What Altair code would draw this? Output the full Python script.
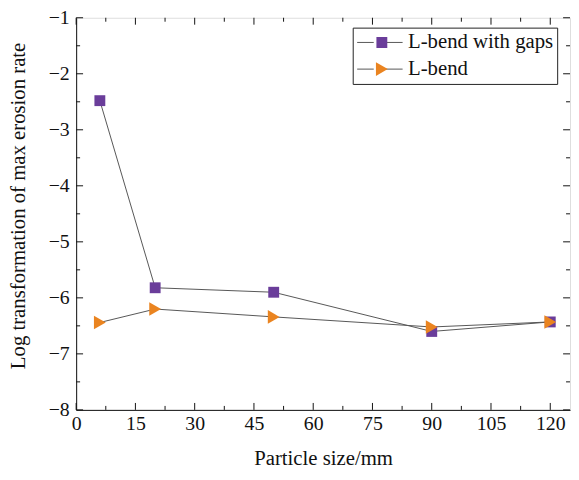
import altair as alt
import pandas as pd

sizes = [6, 20, 50, 90, 120]
gaps_vals = [-2.48, -5.82, -5.90, -6.60, -6.43]
lbend_vals = [-6.44, -6.20, -6.34, -6.52, -6.43]
series_names = ["L-bend with gaps", "L-bend"]
series_colors = ["#6a3d9a", "#ea8420"]
series_shapes = ["square", "triangle-right"]
series_sizes = [121, 190]

x_major = [0, 15, 30, 45, 60, 75, 90, 105, 120]
x_minor = [7.5, 22.5, 37.5, 52.5, 67.5, 82.5, 97.5, 112.5]
y_major = [-8, -7, -6, -5, -4, -3, -2, -1]
y_minor = [-7.5, -6.5, -5.5, -4.5, -3.5, -2.5, -1.5]

rows = []
for s, g, l in zip(sizes, gaps_vals, lbend_vals):
    rows.append({"size": s, "val": g, "series": series_names[0]})
    rows.append({"size": s, "val": l, "series": series_names[1]})
df = pd.DataFrame(rows)

W, H = 500, 397
FONT = "Liberation Serif, Times New Roman, Times, serif"
INK = "#111111"

xscale = alt.Scale(domain=[0, 125], nice=False, zero=False)
yscale = alt.Scale(domain=[-8, -1], nice=False, zero=False)

xaxis = alt.Axis(values=x_major, ticks=False, grid=False, title="Particle size/mm",
                 format="d",
                 labelFont=FONT, labelFontSize=20, labelColor=INK, labelPadding=4,
                 titleFont=FONT, titleFontSize=21, titleFontWeight="normal", titleColor=INK,
                 titleBaseline="alphabetic", titleY=55,
                 domainColor=INK, labelFlush=False)
yaxis = alt.Axis(values=y_major, ticks=False, grid=False,
                 title="Log transformation of max erosion rate",
                 format="d",
                 labelFont=FONT, labelFontSize=20, labelColor=INK, labelPadding=7,
                 titleFont=FONT, titleFontSize=21, titleFontWeight="normal", titleColor=INK,
                 titleBaseline="middle", titleX=-58, titleY=190, titleAngle=270,
                 domainColor=INK, labelFlush=False)

base = alt.Chart(df)

LEG_Y = 10
lines = base.mark_line(strokeWidth=1, color="#444444").encode(
    x=alt.X("size:Q", scale=xscale, axis=xaxis),
    y=alt.Y("val:Q", scale=yscale, axis=yaxis),
    stroke=alt.Stroke("series:N",
                      scale=alt.Scale(domain=series_names, range=["#555555", "#555555"]),
                      legend=alt.Legend(orient="none", legendX=280, legendY=LEG_Y, title=None,
                                        symbolType="M-1,0H-0.27M0.27,0H1", symbolSize=2116,
                                        symbolStrokeWidth=1, symbolFillColor="transparent",
                                        labelFontSize=21, labelFont=FONT, labelColor=INK,
                                        labelOffset=5, clipHeight=22, rowPadding=5,
                                        padding=4, strokeColor="#222222")),
    detail="series:N",
)

points = base.mark_point(filled=True, opacity=1).encode(
    x=alt.X("size:Q", scale=xscale),
    y=alt.Y("val:Q", scale=yscale),
    fill=alt.Fill("series:N", scale=alt.Scale(domain=series_names, range=series_colors),
                  legend=alt.Legend(orient="none", legendX=295, legendY=LEG_Y, title=None,
                                    labelOpacity=0, labelFontSize=21, labelFont=FONT,
                                    clipHeight=22, rowPadding=5, padding=4,
                                    symbolStrokeWidth=0, symbolOpacity=1)),
    shape=alt.Shape("series:N", scale=alt.Scale(domain=series_names, range=series_shapes)),
    size=alt.Size("series:N", scale=alt.Scale(domain=series_names, range=series_sizes)),
)

bx_major = alt.Chart(pd.DataFrame({"t": x_major})).mark_rule(color=INK).encode(
    x=alt.X("t:Q", scale=xscale), y=alt.value(H), y2=alt.value(H - 7))
bx_minor = alt.Chart(pd.DataFrame({"t": x_minor})).mark_rule(color=INK).encode(
    x=alt.X("t:Q", scale=xscale), y=alt.value(H), y2=alt.value(H - 4))
tx_major = alt.Chart(pd.DataFrame({"t": x_major})).mark_rule(color=INK).encode(
    x=alt.X("t:Q", scale=xscale), y=alt.value(0), y2=alt.value(7))
tx_minor = alt.Chart(pd.DataFrame({"t": x_minor})).mark_rule(color=INK).encode(
    x=alt.X("t:Q", scale=xscale), y=alt.value(0), y2=alt.value(4))
ly_major = alt.Chart(pd.DataFrame({"t": y_major})).mark_rule(color=INK).encode(
    y=alt.Y("t:Q", scale=yscale), x=alt.value(0), x2=alt.value(7))
ly_minor = alt.Chart(pd.DataFrame({"t": y_minor})).mark_rule(color=INK).encode(
    y=alt.Y("t:Q", scale=yscale), x=alt.value(0), x2=alt.value(4))
ry_major = alt.Chart(pd.DataFrame({"t": y_major})).mark_rule(color=INK).encode(
    y=alt.Y("t:Q", scale=yscale), x=alt.value(W), x2=alt.value(W - 7))
ry_minor = alt.Chart(pd.DataFrame({"t": y_minor})).mark_rule(color=INK).encode(
    y=alt.Y("t:Q", scale=yscale), x=alt.value(W), x2=alt.value(W - 4))

chart = alt.layer(
    bx_major, bx_minor, tx_major, tx_minor, ly_major, ly_minor, ry_major, ry_minor,
    lines, points,
).resolve_scale(stroke="independent", fill="independent", shape="independent",
                size="independent").properties(
    width=W, height=H,
    autosize=alt.AutoSizeParams(type="none"),
    padding={"left": 69, "top": 7, "right": 1, "bottom": 59},
).configure_view(stroke=INK, strokeWidth=1).configure(background="white")

chart.save("out.html", embed_options={"renderer": "svg", "actions": False})
